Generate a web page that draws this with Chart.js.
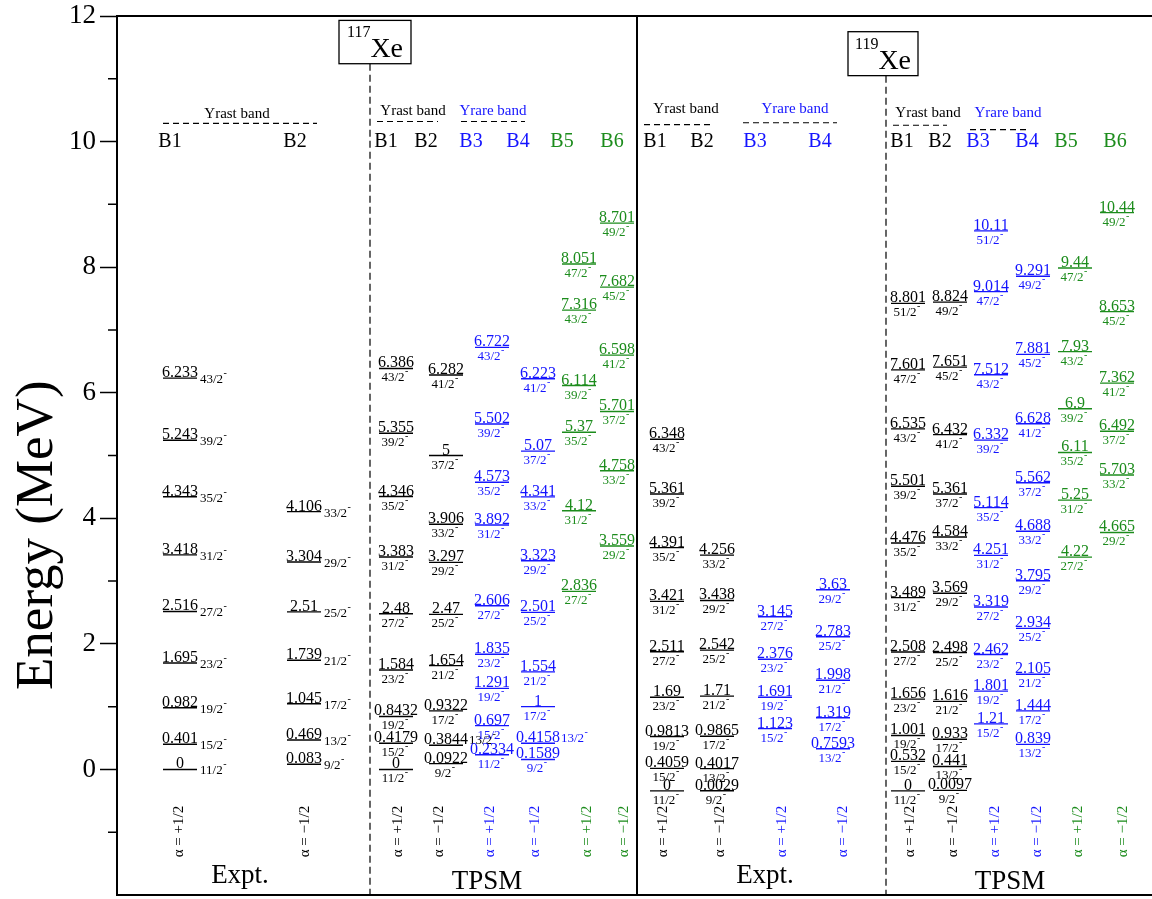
<!DOCTYPE html>
<html>
<head>
<meta charset="utf-8">
<title>117Xe / 119Xe band structure</title>
<script src="https://cdn.jsdelivr.net/npm/chart.js@4.4.0/dist/chart.umd.min.js"></script>
<style>
  html, body { margin: 0; padding: 0; background: #fff; overflow: hidden; }
  #wrap { width: 1152px; height: 899px; }
  #levels { display: block; width: 1152px; height: 899px; }
</style>
</head>
<body>
<div id="wrap"><canvas id="levels" width="1152" height="899"></canvas></div>
<script>
// ---- 117Xe, experiment ----
var e117xB1 = [0, 0.401, 0.982, 1.695, 2.516, 3.418, 4.343, 5.243, 6.233];
var j117xB1 = ['11/2', '15/2', '19/2', '23/2', '27/2', '31/2', '35/2', '39/2', '43/2'];
var e117xB2 = [0.083, 0.469, 1.045, 1.739, 2.51, 3.304, 4.106];
var j117xB2 = ['9/2', '13/2', '17/2', '21/2', '25/2', '29/2', '33/2'];

// ---- 117Xe, TPSM ----
var e117tB1 = [0, 0.4179, 0.8432, 1.584, 2.48, 3.383, 4.346, 5.355, 6.386];
var j117tB1 = ['11/2', '15/2', '19/2', '23/2', '27/2', '31/2', '35/2', '39/2', '43/2'];
var e117tB2 = [0.0922, 0.3844, 0.9322, 1.654, 2.47, 3.297, 3.906, 5, 6.282];
var j117tB2 = ['9/2', '13/2', '17/2', '21/2', '25/2', '29/2', '33/2', '37/2', '41/2'];
var e117tB3 = [0.2334, 0.697, 1.291, 1.835, 2.606, 3.892, 4.573, 5.502, 6.722];
var j117tB3 = ['11/2', '15/2', '19/2', '23/2', '27/2', '31/2', '35/2', '39/2', '43/2'];
var e117tB4 = [0.1589, 0.4158, 1, 1.554, 2.501, 3.323, 4.341, 5.07, 6.223];
var j117tB4 = ['9/2', '13/2', '17/2', '21/2', '25/2', '29/2', '33/2', '37/2', '41/2'];
var e117tB5 = [2.836, 4.12, 5.37, 6.114, 7.316, 8.051];
var j117tB5 = ['27/2', '31/2', '35/2', '39/2', '43/2', '47/2'];
var e117tB6 = [3.559, 4.758, 5.701, 6.598, 7.682, 8.701];
var j117tB6 = ['29/2', '33/2', '37/2', '41/2', '45/2', '49/2'];

// ---- 119Xe, experiment ----
var e119xB1 = [0, 0.4059, 0.9813, 1.69, 2.511, 3.421, 4.391, 5.361, 6.348];
var j119xB1 = ['11/2', '15/2', '19/2', '23/2', '27/2', '31/2', '35/2', '39/2', '43/2'];
var e119xB2 = [0.0029, 0.4017, 0.9865, 1.71, 2.542, 3.438, 4.256];
var j119xB2 = ['9/2', '13/2', '17/2', '21/2', '25/2', '29/2', '33/2'];
var e119xB3 = [1.123, 1.691, 2.376, 3.145];
var j119xB3 = ['15/2', '19/2', '23/2', '27/2'];
var e119xB4 = [0.7593, 1.319, 1.998, 2.783, 3.63];
var j119xB4 = ['13/2', '17/2', '21/2', '25/2', '29/2'];

// ---- 119Xe, TPSM ----
var e119tB1 = [0, 0.532, 1.001, 1.656, 2.508, 3.489, 4.476, 5.501, 6.535, 7.601, 8.801];
var j119tB1 = ['11/2', '15/2', '19/2', '23/2', '27/2', '31/2', '35/2', '39/2', '43/2', '47/2', '51/2'];
var e119tB2 = [0.0097, 0.441, 0.933, 1.616, 2.498, 3.569, 4.584, 5.361, 6.432, 7.651, 8.824];
var j119tB2 = ['9/2', '13/2', '17/2', '21/2', '25/2', '29/2', '33/2', '37/2', '41/2', '45/2', '49/2'];
var e119tB3 = [1.21, 1.801, 2.462, 3.319, 4.251, 5.114, 6.332, 7.512, 9.014, 10.11];
var j119tB3 = ['15/2', '19/2', '23/2', '27/2', '31/2', '35/2', '39/2', '43/2', '47/2', '51/2'];
var e119tB4 = [0.839, 1.444, 2.105, 2.934, 3.795, 4.688, 5.562, 6.628, 7.881, 9.291];
var j119tB4 = ['13/2', '17/2', '21/2', '25/2', '29/2', '33/2', '37/2', '41/2', '45/2', '49/2'];
var e119tB5 = [4.22, 5.25, 6.11, 6.9, 7.93, 9.44];
var j119tB5 = ['27/2', '31/2', '35/2', '39/2', '43/2', '47/2'];
var e119tB6 = [4.665, 5.703, 6.492, 7.362, 8.653, 10.44];
var j119tB6 = ['29/2', '33/2', '37/2', '41/2', '45/2', '49/2'];

var BLACK = '#000000';
var BLUE = '#1414ff';
var GREEN = '#1c8c1c';
var SERIF = '"Liberation Serif", "Times New Roman", serif';

var alphaText = ['\u03b1 = +1/2', '\u03b1 = \u22121/2'];

// one column per band; x is in panel units (0..1035 across the frame),
// ax = where the signature label sits, sig = index into alphaText,
// right = levels whose spin goes beside the number instead of under it.
// The 119Xe half was drawn on its own energy scale, hence axis y2.
var columns = [
    {e: e117xB1, j: j117xB1, x: 63, ax: 62, sig: 0, c: BLACK, axis: 'y', side: 'right'},
    {e: e117xB2, j: j117xB2, x: 187, ax: 188, sig: 1, c: BLACK, axis: 'y', side: 'right'},
    {e: e117tB1, j: j117tB1, x: 279, ax: 281, sig: 0, c: BLACK, axis: 'y'},
    {e: e117tB2, j: j117tB2, x: 329, ax: 322, sig: 1, c: BLACK, axis: 'y', right: [1]},
    {e: e117tB3, j: j117tB3, x: 375, ax: 373, sig: 0, c: BLUE, axis: 'y'},
    {e: e117tB4, j: j117tB4, x: 421, ax: 418, sig: 1, c: BLUE, axis: 'y', right: [1]},
    {e: e117tB5, j: j117tB5, x: 462, ax: 470, sig: 0, c: GREEN, axis: 'y'},
    {e: e117tB6, j: j117tB6, x: 500, ax: 507, sig: 1, c: GREEN, axis: 'y'},
    {e: e119xB1, j: j119xB1, x: 550, ax: 546, sig: 0, c: BLACK, axis: 'y2'},
    {e: e119xB2, j: j119xB2, x: 600, ax: 603, sig: 1, c: BLACK, axis: 'y2'},
    {e: e119xB3, j: j119xB3, x: 658, ax: 665, sig: 0, c: BLUE, axis: 'y2'},
    {e: e119xB4, j: j119xB4, x: 716, ax: 726, sig: 1, c: BLUE, axis: 'y2'},
    {e: e119tB1, j: j119tB1, x: 791, ax: 793, sig: 0, c: BLACK, axis: 'y2'},
    {e: e119tB2, j: j119tB2, x: 833, ax: 836, sig: 1, c: BLACK, axis: 'y2'},
    {e: e119tB3, j: j119tB3, x: 874, ax: 878, sig: 0, c: BLUE, axis: 'y2'},
    {e: e119tB4, j: j119tB4, x: 916, ax: 920, sig: 1, c: BLUE, axis: 'y2'},
    {e: e119tB5, j: j119tB5, x: 958, ax: 961, sig: 0, c: GREEN, axis: 'y2'},
    {e: e119tB6, j: j119tB6, x: 1000, ax: 1006, sig: 1, c: GREEN, axis: 'y2'}
];

// band headers B1..B6 (x in panel units, drawn at E = 10 on the left scale)
var heads = [
    [53, 'B1', BLACK], [178, 'B2', BLACK],
    [269, 'B1', BLACK], [309, 'B2', BLACK], [354, 'B3', BLUE], [401, 'B4', BLUE], [445, 'B5', GREEN], [495, 'B6', GREEN],
    [538, 'B1', BLACK], [585, 'B2', BLACK], [638, 'B3', BLUE], [703, 'B4', BLUE],
    [785, 'B1', BLACK], [823, 'B2', BLACK], [861, 'B3', BLUE], [910, 'B4', BLUE], [949, 'B5', GREEN], [998, 'B6', GREEN]
];

// "Yrast band" / "Yrare band" captions: text, colour, text x, text E, dash from, dash to, dash E
var bandNames = [
    ['Yrast band', BLACK, 120, 10.44, 46, 200, 10.29],
    ['Yrast band', BLACK, 296, 10.48, 260, 321, 10.32],
    ['Yrare band', BLUE, 376, 10.48, 344, 408, 10.32],
    ['Yrast band', BLACK, 569, 10.51, 527, 596, 10.27],
    ['Yrare band', BLUE, 678, 10.51, 626, 720, 10.30],
    ['Yrast band', BLACK, 811, 10.45, 776, 830, 10.26],
    ['Yrare band', BLUE, 891, 10.45, 853, 913, 10.19]
];

var datasets = columns.map(function (col) {
    return {
        data: col.e.map(function (v) { return {x: col.x, y: v}; }),
        spins: col.j,
        side: col.side || 'below',
        right: col.right || [],
        yAxisID: col.axis,
        pointStyle: 'line',
        pointRadius: 17,
        pointHoverRadius: 17,
        borderWidth: 1.4,
        borderColor: col.c,
        backgroundColor: col.c
    };
});

function drawSpin(ctx, text, x, y, align) {
    ctx.font = '13px ' + SERIF;
    ctx.textAlign = align;
    ctx.textBaseline = 'alphabetic';
    var w = ctx.measureText(text).width;
    ctx.fillText(text, x, y);
    var right = align === 'left' ? x + w : x + w / 2;
    ctx.font = '10px ' + SERIF;
    ctx.textAlign = 'left';
    ctx.fillText('-', right + 0.5, y - 7);
}

var levelLabels = {
    id: 'levelLabels',
    afterDatasetsDraw: function (chart) {
        var ctx = chart.ctx;
        ctx.save();
        chart.data.datasets.forEach(function (ds, i) {
            var meta = chart.getDatasetMeta(i);
            meta.data.forEach(function (pt, k) {
                ctx.fillStyle = ds.borderColor;
                ctx.font = '16px ' + SERIF;
                ctx.textAlign = 'center';
                ctx.textBaseline = 'alphabetic';
                var label = String(ds.data[k].y);
                ctx.fillText(label, pt.x, pt.y - 1);
                if (ds.side === 'right') {
                    drawSpin(ctx, ds.spins[k], pt.x + 20, pt.y + 5, 'left');
                } else if (ds.right.indexOf(k) >= 0) {
                    ctx.font = '16px ' + SERIF;
                    var w = ctx.measureText(label).width;
                    drawSpin(ctx, ds.spins[k], pt.x + w / 2 + 1, pt.y - 1, 'left');
                } else {
                    drawSpin(ctx, ds.spins[k], pt.x - 3, pt.y + 13, 'center');
                }
            });
        });
        ctx.restore();
    }
};

var frame = {
    id: 'frame',
    afterDraw: function (chart) {
        var ctx = chart.ctx;
        var a = chart.chartArea;
        var X = function (v) { return chart.scales.x.getPixelForValue(v); };
        var Y = function (v) { return chart.scales.y.getPixelForValue(v); };
        ctx.save();
        ctx.strokeStyle = BLACK;

        // outer frame and panel separators
        ctx.lineWidth = 2;
        ctx.beginPath();
        ctx.moveTo(a.left, a.top); ctx.lineTo(a.right, a.top);
        ctx.moveTo(a.left, a.bottom); ctx.lineTo(a.right, a.bottom);
        ctx.moveTo(X(520), a.top); ctx.lineTo(X(520), a.bottom);
        ctx.stroke();

        // minor ticks at odd energies
        ctx.lineWidth = 1.5;
        ctx.beginPath();
        for (var v = -1; v <= 11; v += 2) {
            ctx.moveTo(a.left - 9, Y(v));
            ctx.lineTo(a.left, Y(v));
        }
        ctx.stroke();

        ctx.lineWidth = 1.2;
        ctx.setLineDash([7, 4]);
        ctx.beginPath();
        ctx.moveTo(X(253), Y(11.24)); ctx.lineTo(X(253), a.bottom);
        ctx.moveTo(X(769), Y(11.05)); ctx.lineTo(X(769), a.bottom);
        ctx.stroke();

        // band captions
        ctx.setLineDash([6, 4]);
        bandNames.forEach(function (b) {
            ctx.fillStyle = b[1];
            ctx.font = '15px ' + SERIF;
            ctx.textAlign = 'center';
            ctx.textBaseline = 'middle';
            ctx.fillText(b[0], X(b[2]), Y(b[3]));
            ctx.beginPath();
            ctx.moveTo(X(b[4]), Y(b[6])); ctx.lineTo(X(b[5]), Y(b[6]));
            ctx.stroke();
        });
        ctx.setLineDash([]);

        heads.forEach(function (h) {
            ctx.fillStyle = h[2];
            ctx.font = '20px ' + SERIF;
            ctx.textAlign = 'center';
            ctx.textBaseline = 'middle';
            ctx.fillText(h[1], X(h[0]), Y(10));
        });

        // nucleus boxes
        [['117', 222, 294, 11.93, 11.24], ['119', 731, 801, 11.75, 11.05]].forEach(function (b) {
            var l = X(b[1]), r = X(b[2]), t = Y(b[3]), btm = Y(b[4]);
            ctx.lineWidth = 1.3;
            ctx.strokeRect(l, t, r - l, btm - t);
            ctx.fillStyle = BLACK;
            ctx.textAlign = 'left';
            ctx.textBaseline = 'alphabetic';
            ctx.font = '16px ' + SERIF;
            var w1 = ctx.measureText(b[0]).width;
            ctx.font = '28px ' + SERIF;
            var w2 = ctx.measureText('Xe').width;
            var x0 = (l + r) / 2 - (w1 + w2) / 2;
            ctx.font = '16px ' + SERIF;
            ctx.fillText(b[0], x0, t + 17);
            ctx.font = '28px ' + SERIF;
            ctx.fillText('Xe', x0 + w1, btm - 7);
        });

        // signature labels under each column
        columns.forEach(function (col) {
            ctx.save();
            ctx.translate(X(col.ax), Y(-0.99));
            ctx.rotate(-Math.PI / 2);
            ctx.fillStyle = col.c;
            ctx.font = '15px ' + SERIF;
            ctx.textAlign = 'center';
            ctx.textBaseline = 'middle';
            ctx.fillText(alphaText[col.sig], 0, 0);
            ctx.restore();
        });

        ctx.fillStyle = BLACK;
        ctx.font = '27px ' + SERIF;
        ctx.textAlign = 'center';
        ctx.textBaseline = 'middle';
        ctx.fillText('Expt.', X(123), Y(-1.7));
        ctx.fillText('TPSM', X(370), Y(-1.79));
        ctx.fillText('Expt.', X(648), Y(-1.7));
        ctx.fillText('TPSM', X(893), Y(-1.79));

        // axis title
        ctx.save();
        ctx.translate(38, Y(3.73));
        ctx.rotate(-Math.PI / 2);
        ctx.font = '53px ' + SERIF;
        ctx.fillText('Energy (MeV)', 0, 0);
        ctx.restore();

        ctx.restore();
    }
};

var chart = new Chart(document.getElementById('levels').getContext('2d'), {
    type: 'scatter',
    data: {datasets: datasets},
    options: {
        responsive: false,
        animation: false,
        devicePixelRatio: 1,
        events: [],
        layout: {autoPadding: false, padding: {top: 16, right: 0, bottom: 4, left: 0}},
        plugins: {legend: {display: false}, tooltip: {enabled: false}},
        scales: {
            x: {type: 'linear', min: 0, max: 1035, display: false},
            y: {
                min: -2,
                max: 12,
                position: 'left',
                afterFit: function (scale) {
                    scale.width = 117;
                    scale.paddingTop = 0;
                    scale.paddingBottom = 0;
                    scale.paddingLeft = 0;
                    scale.paddingRight = 0;
                },
                ticks: {
                    stepSize: 1,
                    autoSkip: false,
                    padding: 4,
                    color: BLACK,
                    font: {family: SERIF, size: 27},
                    callback: function (v) { return v % 2 === 0 && v >= 0 ? v : ''; }
                },
                grid: {
                    drawOnChartArea: false,
                    drawTicks: true,
                    tickLength: 17,
                    tickWidth: 1.5,
                    tickColor: function (c) {
                        return c.tick.value % 2 === 0 && c.tick.value >= 0 ? BLACK : 'rgba(0,0,0,0)';
                    }
                },
                border: {display: true, color: BLACK, width: 2}
            },
            y2: {min: -1.88, max: 13.99, display: false}
        }
    },
    plugins: [levelLabels, frame]
});
</script>
</body>
</html>
